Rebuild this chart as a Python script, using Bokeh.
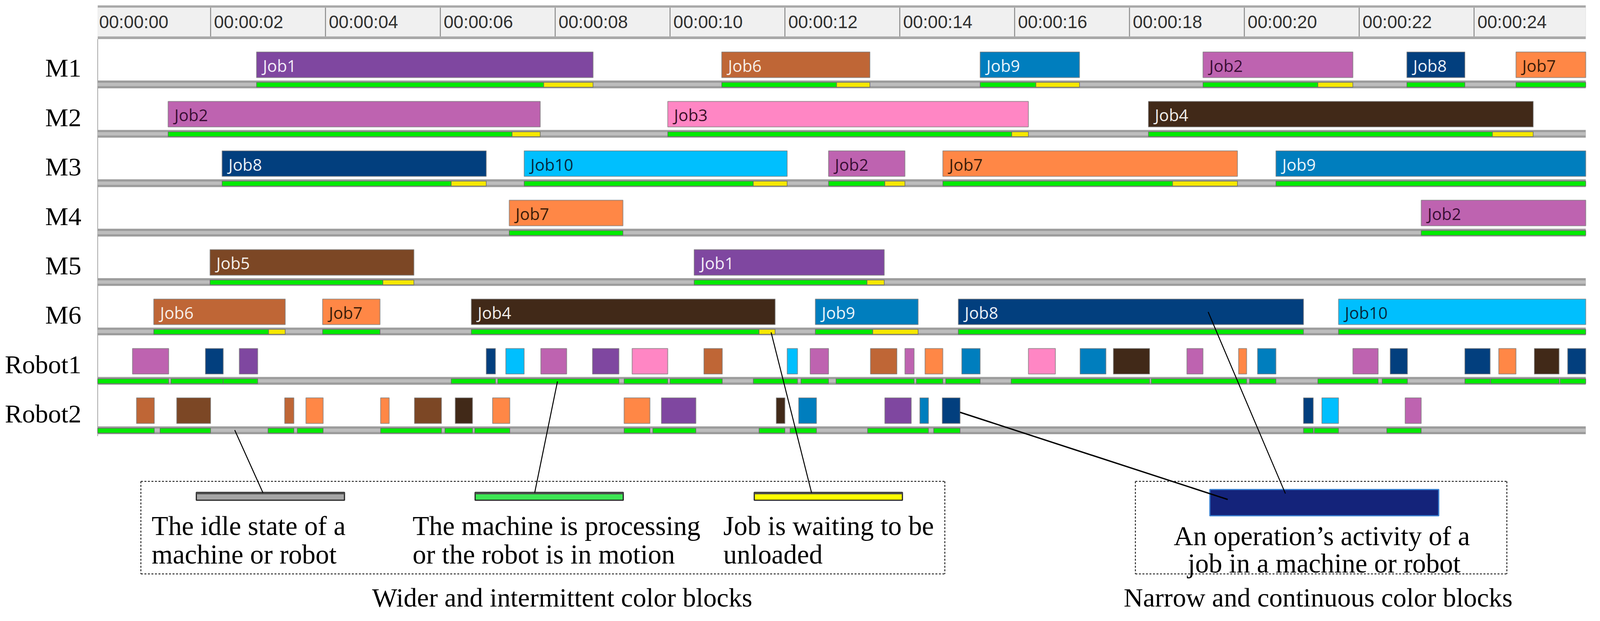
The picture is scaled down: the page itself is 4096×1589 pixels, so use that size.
import numpy as np
from bokeh.plotting import figure
from bokeh.models import Range1d
from bokeh.core.properties import value
from bokeh.embed import file_html
from bokeh.resources import INLINE

# ---------------- data ----------------
row_labels = ["M1", "M2", "M3", "M4", "M5", "M6", "Robot1", "Robot2"]
tick_seconds = [0, 2, 4, 6, 8, 10, 12, 14, 16, 18, 20, 22, 24]
tick_labels = ["00:00:00", "00:00:02", "00:00:04", "00:00:06", "00:00:08", "00:00:10",
               "00:00:12", "00:00:14", "00:00:16", "00:00:18", "00:00:20", "00:00:22", "00:00:24"]

jobs = ["Job1", "Job2", "Job3", "Job4", "Job5", "Job6", "Job7", "Job8", "Job9", "Job10"]
job_colors = ["#7F47A0", "#BE63B0", "#FF86C4", "#412918", "#7C4725", "#BF6636",
              "#FF8746", "#023F7E", "#007EBE", "#00BFFE"]
job_text_colors = ["#F2ECF8", "#3A0E35", "#3D1028", "#F2EEEA", "#F4EEE8", "#F6EEE8",
                   "#3A1C08", "#EAF0F8", "#EAF4FA", "#06283E"]

# machine operations: start, end of processing (green), end incl. waiting for unload (yellow)
op_machine = ["M1"] * 6 + ["M2"] * 3 + ["M3"] * 5 + ["M4"] * 2 + ["M5"] * 2 + ["M6"] * 6
op_job = ["Job1", "Job6", "Job9", "Job2", "Job8", "Job7",
          "Job2", "Job3", "Job4",
          "Job8", "Job10", "Job2", "Job7", "Job9",
          "Job7", "Job2",
          "Job5", "Job1",
          "Job6", "Job7", "Job4", "Job9", "Job8", "Job10"]
op_start = [2.80, 10.90, 15.40, 19.28, 22.83, 24.73,
            1.26, 9.96, 18.33,
            2.20, 7.46, 12.76, 14.75, 20.55,
            7.20, 23.08,
            1.99, 10.42,
            1.01, 3.95, 6.54, 12.53, 15.02, 21.64]
op_proc_end = [7.80, 12.90, 16.37, 21.28, 23.84, 26.20,
               7.25, 15.95, 24.32,
               6.19, 11.45, 13.74, 18.75, 26.20,
               9.18, 26.20,
               5.00, 13.43,
               3.01, 4.95, 11.55, 13.53, 21.03, 26.20]
op_end = [8.66, 13.48, 17.13, 21.89, 23.84, 26.20,
          7.74, 16.24, 25.03,
          6.80, 12.04, 14.09, 19.88, 26.20,
          9.18, 26.20,
          5.54, 13.73,
          3.30, 4.95, 11.83, 14.32, 21.03, 26.20]

# robot transport operations (coloured block = job carried)
r1_job = ["Job2", "Job8", "Job1", "Job8", "Job10", "Job2", "Job1", "Job3", "Job6", "Job10",
          "Job2", "Job6", "Job2", "Job7", "Job9", "Job3", "Job9", "Job4", "Job2", "Job7",
          "Job9", "Job2", "Job8", "Job8", "Job7", "Job4", "Job8"]
r1_start = [0.64, 1.91, 2.50, 6.80, 7.14, 7.75, 8.65, 9.34, 10.59, 12.04,
            12.44, 13.49, 14.09, 14.44, 15.08, 16.24, 17.14, 17.72, 19.00, 19.90,
            20.23, 21.89, 22.54, 23.84, 24.43, 25.05, 25.63]
r1_end = [1.27, 2.22, 2.82, 6.96, 7.46, 8.20, 9.11, 9.96, 10.91, 12.22,
          12.76, 13.95, 14.25, 14.75, 15.40, 16.71, 17.59, 18.35, 19.28, 20.04,
          20.55, 22.33, 22.84, 24.28, 24.73, 25.48, 26.20]
r1_move_start = [0.00, 1.31, 2.22, 6.19, 7.00, 9.20, 10.00, 11.45, 12.28, 12.89,
                 14.29, 14.80, 15.94, 18.38, 20.09, 21.28, 22.40, 23.84, 24.29, 25.50]
r1_move_end = [1.27, 2.22, 2.82, 6.96, 9.11, 9.96, 10.91, 12.22, 12.76, 14.25,
               14.75, 15.40, 18.35, 20.04, 20.55, 22.33, 22.84, 24.28, 25.48, 26.20]

r2_job = ["Job6", "Job5", "Job6", "Job7", "Job7", "Job5", "Job4", "Job7", "Job7", "Job1",
          "Job4", "Job9", "Job1", "Job9", "Job8", "Job8", "Job10", "Job2"]
r2_start = [0.71, 1.41, 3.29, 3.66, 4.96, 5.55, 6.26, 6.91, 9.20, 9.85,
            11.85, 12.24, 13.74, 14.35, 14.74, 21.03, 21.35, 22.80]
r2_end = [1.02, 2.00, 3.45, 3.96, 5.11, 6.02, 6.56, 7.21, 9.65, 10.45,
          12.00, 12.55, 14.20, 14.50, 15.05, 21.20, 21.64, 23.08]
r2_move_start = [0.00, 1.12, 3.00, 3.51, 4.96, 6.08, 6.60, 9.20, 9.70, 11.55,
                 12.09, 13.44, 14.59, 21.03, 21.22, 22.48]
r2_move_end = [1.02, 2.00, 3.45, 3.96, 6.02, 6.56, 7.21, 9.65, 10.45, 12.00,
               12.55, 14.50, 15.05, 21.20, 21.64, 23.08]

legend_texts = [["The idle state of a", "machine or robot"],
                ["The machine is processing", "or the robot is in motion"],
                ["Job is waiting to be", "unloaded"]]
activity_text = ["An operation\u2019s activity  of a", "job in a machine or robot"]
group_captions = ["Wider and intermittent color blocks", "Narrow and continuous color blocks"]

# ---------------- layout (reference pixel space) ----------------
REF_W, REF_H = 4282, 1661
W, H = 4080, 1573
S = (W / REF_W + H / REF_H) / 2
PX0, PPS = 256.7, 154.3


def t_of(px):
    return (px - PX0) / PPS


def fs(size):
    return f"{size * S:.1f}px"


T_LO, T_HI = t_of(262), t_of(4260)
PITCH = 133.5
BAR_T, BAR_B = 140, 209
STRIP_T, STRIP_B = 217, 238
SEG_T, SEG_B = 222, 235

cmap = dict(zip(jobs, job_colors))
tcmap = dict(zip(jobs, job_text_colors))
ridx = {r: i for i, r in enumerate(row_labels)}


def clipx(a):
    return np.clip(np.asarray(a, dtype=float), T_LO, T_HI)


p = figure(width=W, height=H, x_range=Range1d(t_of(0), t_of(REF_W)),
           y_range=Range1d(REF_H, 0), output_backend="svg", toolbar_location=None,
           min_border=0, x_axis_location=None, y_axis_location=None,
           background_fill_color="white", border_fill_color="white")
p.grid.visible = False
p.outline_line_color = None

# ---- header (time scale) ----
p.quad(left=[T_LO], right=[T_HI], top=[14], bottom=[105], fill_color="#A8A8A8", line_color=None)
p.quad(left=[T_LO], right=[T_HI], top=[20], bottom=[98], fill_color="#F0F0F0", line_color=None)
seps = [t for t in tick_seconds if t > T_LO]
p.segment(x0=seps, y0=[20] * len(seps), x1=seps, y1=[98] * len(seps),
          line_color="#8A8A8A", line_width=2.5)
p.text(x=tick_seconds, y=[59] * len(tick_seconds), text=tick_labels, x_offset=9 * S,
       text_baseline="middle", text_align="left", text_font=value("Liberation Sans"),
       text_font_size=fs(48), text_color="#303030")

# left border of the chart
p.segment(x0=[T_LO], y0=[105], x1=[T_LO], y1=[1178], line_color="#A6A6A6", line_width=2)

# ---- idle strips (gray) for every row ----
n = len(row_labels)
rows_i = np.arange(n)
p.quad(left=[T_LO] * n, right=[T_HI] * n, top=STRIP_T + PITCH * rows_i,
       bottom=STRIP_B + PITCH * rows_i, fill_color="#9C9C9C", line_color=None)
p.quad(left=[T_LO] * n, right=[T_HI] * n, top=STRIP_T + 6 + PITCH * rows_i,
       bottom=STRIP_B - 6 + PITCH * rows_i, fill_color="#BDBDBD", line_color=None)

# ---- machine status: processing (green) and waiting (yellow) ----
m_i = np.array([ridx[m] for m in op_machine])
p.quad(left=clipx(op_start), right=clipx(op_proc_end), top=SEG_T + PITCH * m_i,
       bottom=SEG_B + PITCH * m_i, fill_color="#00EA00", line_color="#6A6A6A", line_width=1.5)
wait = [k for k in range(len(op_end)) if op_end[k] > op_proc_end[k] + 1e-6]
p.quad(left=clipx([op_proc_end[k] for k in wait]), right=clipx([op_end[k] for k in wait]),
       top=SEG_T + PITCH * m_i[wait], bottom=SEG_B + PITCH * m_i[wait],
       fill_color="#F6E800", line_color="#6A6A6A", line_width=1.5)

# ---- robot motion (green) ----
for rname, ms, me in (("Robot1", r1_move_start, r1_move_end), ("Robot2", r2_move_start, r2_move_end)):
    i = ridx[rname]
    p.quad(left=clipx(ms), right=clipx(me), top=[SEG_T + PITCH * i] * len(ms),
           bottom=[SEG_B + PITCH * i] * len(ms), fill_color="#00EA00",
           line_color="#6A6A6A", line_width=1.5)

# ---- operation blocks ----
bl_left = list(op_start) + r1_start + r2_start
bl_right = list(op_end) + r1_end + r2_end
bl_job = op_job + r1_job + r2_job
bl_row = list(m_i) + [ridx["Robot1"]] * len(r1_job) + [ridx["Robot2"]] * len(r2_job)
bl_row = np.array(bl_row)
p.quad(left=clipx(bl_left), right=clipx(bl_right), top=BAR_T + PITCH * bl_row,
       bottom=BAR_B + PITCH * bl_row, fill_color=[cmap[j] for j in bl_job],
       line_color="#7C7C7C", line_alpha=0.75, line_width=2)

# job labels on machine blocks
p.text(x=op_start, y=176 + PITCH * m_i, text=op_job, x_offset=17 * S,
       text_baseline="middle", text_align="left", text_font=value("Open Sans"),
       text_font_size=fs(44), text_color=[tcmap[j] for j in op_job])

# row labels
p.text(x=[t_of(218)] * n, y=183 + PITCH * rows_i, text=row_labels, text_align="right",
       text_baseline="middle", text_font=value("Liberation Serif"),
       text_font_size=fs(70), text_color="black")

# ---------------- explanation area ----------------
def box(x0, x1, y0, y1):
    xs0 = [t_of(x0), t_of(x0), t_of(x0), t_of(x1)]
    xs1 = [t_of(x1), t_of(x1), t_of(x0), t_of(x1)]
    ys0 = [y0, y1, y0, y0]
    ys1 = [y0, y1, y1, y1]
    p.segment(x0=xs0, y0=ys0, x1=xs1, y1=ys1, line_color="#2A2A2A",
              line_width=2.5, line_dash="5 4")


box(378, 2538, 1300, 1550)
box(3050, 4048, 1300, 1550)

sw_left = [527, 1276, 2026]
sw_fill = ["#A6A6A6", "#3DE653", "#FFFF00"]
p.quad(left=[t_of(x) for x in sw_left], right=[t_of(x + 398) for x in sw_left],
       top=[1330] * 3, bottom=[1351] * 3, fill_color=sw_fill, line_color="#262626", line_width=3)
p.quad(left=[t_of(x) for x in sw_left], right=[t_of(x + 398) for x in sw_left],
       top=[1330] * 3, bottom=[1335] * 3, fill_color="#4A4A4A", line_color=None)
p.quad(left=[t_of(3250)], right=[t_of(3865)], top=[1322], bottom=[1393],
       fill_color="#14237A", line_color="#3C82D2", line_width=3)

txt_x = [407, 1108, 1943]
for k, (l1, l2) in enumerate(legend_texts):
    p.text(x=[t_of(txt_x[k])] * 2, y=[1420, 1497], text=[l1, l2], text_align="left",
           text_baseline="alphabetic", text_font=value("Liberation Serif"),
           text_font_size=fs(73), text_color="black")
p.text(x=[t_of(3560), t_of(3557)], y=[1448, 1522], text=activity_text, text_align="center",
       text_baseline="alphabetic", text_font=value("Liberation Serif"),
       text_font_size=fs(73), text_color="black")
p.text(x=[t_of(1510), t_of(3541)], y=[1614, 1614], text=group_captions, text_align="center",
       text_baseline="middle", text_font=value("Liberation Serif"),
       text_font_size=fs(72), text_color="black")

# pointer lines: from an element of the chart to its explanation
ann_t0 = [2.42, 8.04, 11.76, 19.37]
ann_y0 = [227 + PITCH * 7, 229 + PITCH * 6, 230 + PITCH * 5, 175 + PITCH * 5]
ann_x1 = [706, 1436, 2180, 3453]
ann_y1 = [1331, 1331, 1331, 1333]
p.segment(x0=ann_t0, y0=ann_y0, x1=[t_of(x) for x in ann_x1], y1=ann_y1,
          line_color="black", line_width=2.5)
p.segment(x0=[r2_end[14]], y0=[175 + PITCH * 7 + 4], x1=[t_of(3298)], y1=[1349],
          line_color="black", line_width=3.5)

open("out.html", "w").write(file_html(p, INLINE))
